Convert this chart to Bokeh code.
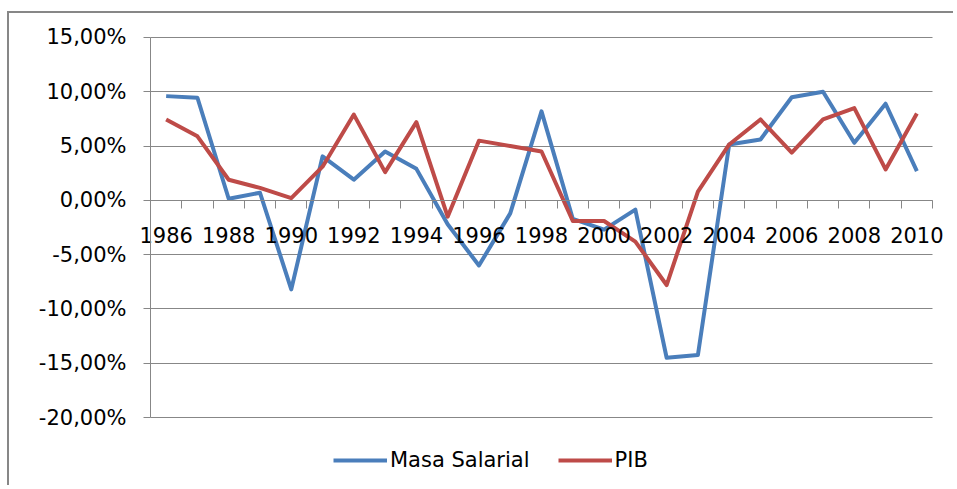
from bokeh.plotting import figure
from bokeh.models import FixedTicker, Range1d, Legend, LegendItem
from bokeh.embed import file_html
from bokeh.resources import INLINE

years = list(range(1986, 2011))
masa_salarial = [9.6, 9.45, 0.15, 0.7, -8.2, 4.05, 1.9, 4.5, 2.9, -2.2, -6.0, -1.2, 8.2,
                 -1.7, -2.7, -0.85, -14.5, -14.25, 5.15, 5.6, 9.5, 10.0, 5.3, 8.9, 2.7]
pib = [7.45, 5.9, 1.9, 1.15, 0.2, 3.1, 7.9, 2.6, 7.2, -1.5, 5.5, 5.0, 4.5,
       -1.9, -1.9, -3.8, -7.8, 0.8, 5.15, 7.45, 4.4, 7.45, 8.5, 2.85, 8.0]
y_ticks = [-20, -15, -10, -5, 0, 5, 10, 15]
x_label_years = list(range(1986, 2011, 2))

FONT = "DejaVu Sans"
GRAY = "#878787"
X_BOUNDS = (1985.5, 2010.5)
Y_BOUNDS = (-20, 15)

# The frame fills the figure so that no axis label or the legend gets clipped;
# axes and grid lines are limited to the Excel-like plot area through bounds.
p = figure(width=946, height=474, output_backend="svg", toolbar_location=None,
           x_range=Range1d(1980.992, 2011.235), y_range=Range1d(-26.447, 17.21),
           min_border_left=0, min_border_right=0, min_border_top=0, min_border_bottom=0,
           styles={"border-left": "2px solid #878787", "border-top": "2px solid #878787",
                   "margin-top": "11px", "margin-left": "7px"})
p.outline_line_color = None
p.background_fill_color = "white"
p.border_fill_color = "white"

# y axis at the left edge of the plot area
p.yaxis.fixed_location = X_BOUNDS[0]
p.yaxis.bounds = Y_BOUNDS
p.yaxis.ticker = FixedTicker(ticks=y_ticks)
p.yaxis.major_label_overrides = {v: f"{v:.2f}%".replace(".", ",") for v in y_ticks}
p.yaxis.axis_line_color = GRAY
p.yaxis.major_tick_line_color = GRAY
p.yaxis.major_tick_out = 7
p.yaxis.major_tick_in = 0
p.yaxis.minor_tick_line_color = None
p.yaxis.major_label_standoff = 17
p.yaxis.major_label_text_font = FONT
p.yaxis.major_label_text_font_size = "21px"
p.yaxis.major_label_text_color = "#000000"

# x axis drawn at zero
p.xaxis.fixed_location = 0
p.xaxis.bounds = X_BOUNDS
p.xaxis.ticker = FixedTicker(ticks=x_label_years,
                             minor_ticks=[y + 0.5 for y in range(1985, 2011)])
p.xaxis.major_label_overrides = {y: str(y) for y in x_label_years}
p.xaxis.axis_line_color = GRAY
p.xaxis.major_tick_line_color = None
p.xaxis.major_tick_out = 0
p.xaxis.major_tick_in = 0
p.xaxis.minor_tick_line_color = GRAY
p.xaxis.minor_tick_out = 8
p.xaxis.minor_tick_in = 0
p.xaxis.major_label_standoff = 19
p.xaxis.major_label_text_font = FONT
p.xaxis.major_label_text_font_size = "21px"
p.xaxis.major_label_text_color = "#000000"

p.xgrid.grid_line_color = None
p.ygrid.ticker = FixedTicker(ticks=y_ticks)
p.ygrid.cross_bounds = X_BOUNDS
p.ygrid.grid_line_color = GRAY
p.ygrid.grid_line_width = 1

r1 = p.line(years, masa_salarial, line_color="#4A7EBB", line_width=4, line_join="round")
r2 = p.line(years, pib, line_color="#BE4B48", line_width=4, line_join="round")

legend = Legend(items=[LegendItem(label="Masa Salarial", renderers=[r1]),
                       LegendItem(label="PIB", renderers=[r2])],
                orientation="horizontal", location=(324, 15),
                glyph_width=54, glyph_height=20, label_height=20, label_standoff=3,
                spacing=28, padding=0, margin=0,
                label_text_font=FONT, label_text_font_size="21px",
                label_text_color="#000000",
                border_line_color=None, background_fill_alpha=0)
p.add_layout(legend, "center")

open("out.html", "w").write(file_html(p, INLINE))
